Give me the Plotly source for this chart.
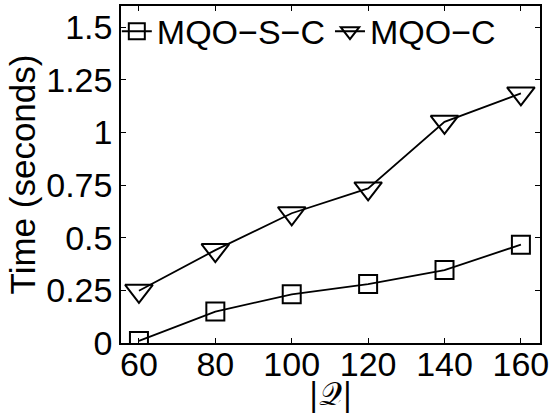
import plotly.graph_objects as go

x_vals = [60, 80, 100, 120, 140, 160]
mqo_s_c = [0.01, 0.149, 0.231, 0.28, 0.346, 0.467]
mqo_c = [0.248, 0.441, 0.616, 0.734, 1.05, 1.185]
y_ticks = [0, 0.25, 0.5, 0.75, 1, 1.25, 1.5]
y_tick_text = ["0", "0.25", "0.5", "0.75", "1", "1.25", "1.5"]

FONT = "Liberation Sans, Arial, Helvetica, sans-serif"

fig = go.Figure()
fig.add_trace(go.Scatter(
    x=x_vals, y=mqo_s_c, mode="lines+markers", name="MQO\u2212S\u2212C",
    line=dict(color="black", width=1.8),
    marker=dict(symbol="square-open", size=18, color="black", line=dict(width=2)),
))
fig.add_trace(go.Scatter(
    x=x_vals, y=mqo_c, mode="lines+markers", name="MQO\u2212C",
    line=dict(color="black", width=1.8),
    marker=dict(symbol="triangle-down-open", size=24, color="black", line=dict(width=2)),
))

axis_common = dict(
    showline=True, linecolor="black", linewidth=1.5, mirror="ticks",
    ticks="inside", ticklen=5, tickwidth=1, tickcolor="black",
    showgrid=False, zeroline=False, automargin=False,
    tickfont=dict(family=FONT, size=34, color="black"),
)
fig.update_xaxes(range=[55.3, 165], tickvals=x_vals, ticktext=[str(v) for v in x_vals],
                 ticklabelstandoff=-10,
                 title=dict(text="|\U0001D4AC|", font=dict(family="DejaVu Serif, serif", size=32, color="black"), standoff=0),
                 **axis_common)
fig.update_yaxes(range=[0, 1.6], tickvals=y_ticks, ticktext=y_tick_text,
                 title=dict(text="Time (seconds)", font=dict(family=FONT, size=35, color="black"), standoff=0),
                 **axis_common)

fig.update_layout(
    width=551, height=413,
    margin=dict(l=121, r=11, t=6, b=70, autoexpand=False),
    paper_bgcolor="white", plot_bgcolor="white",
    showlegend=True,
    legend=dict(x=-0.01, y=1.01, xanchor="left", yanchor="top", orientation="h",
                bgcolor="rgba(0,0,0,0)", font=dict(family=FONT, size=34, color="black"),
                itemwidth=30, tracegroupgap=0),
)

fig.write_html("out.html")
